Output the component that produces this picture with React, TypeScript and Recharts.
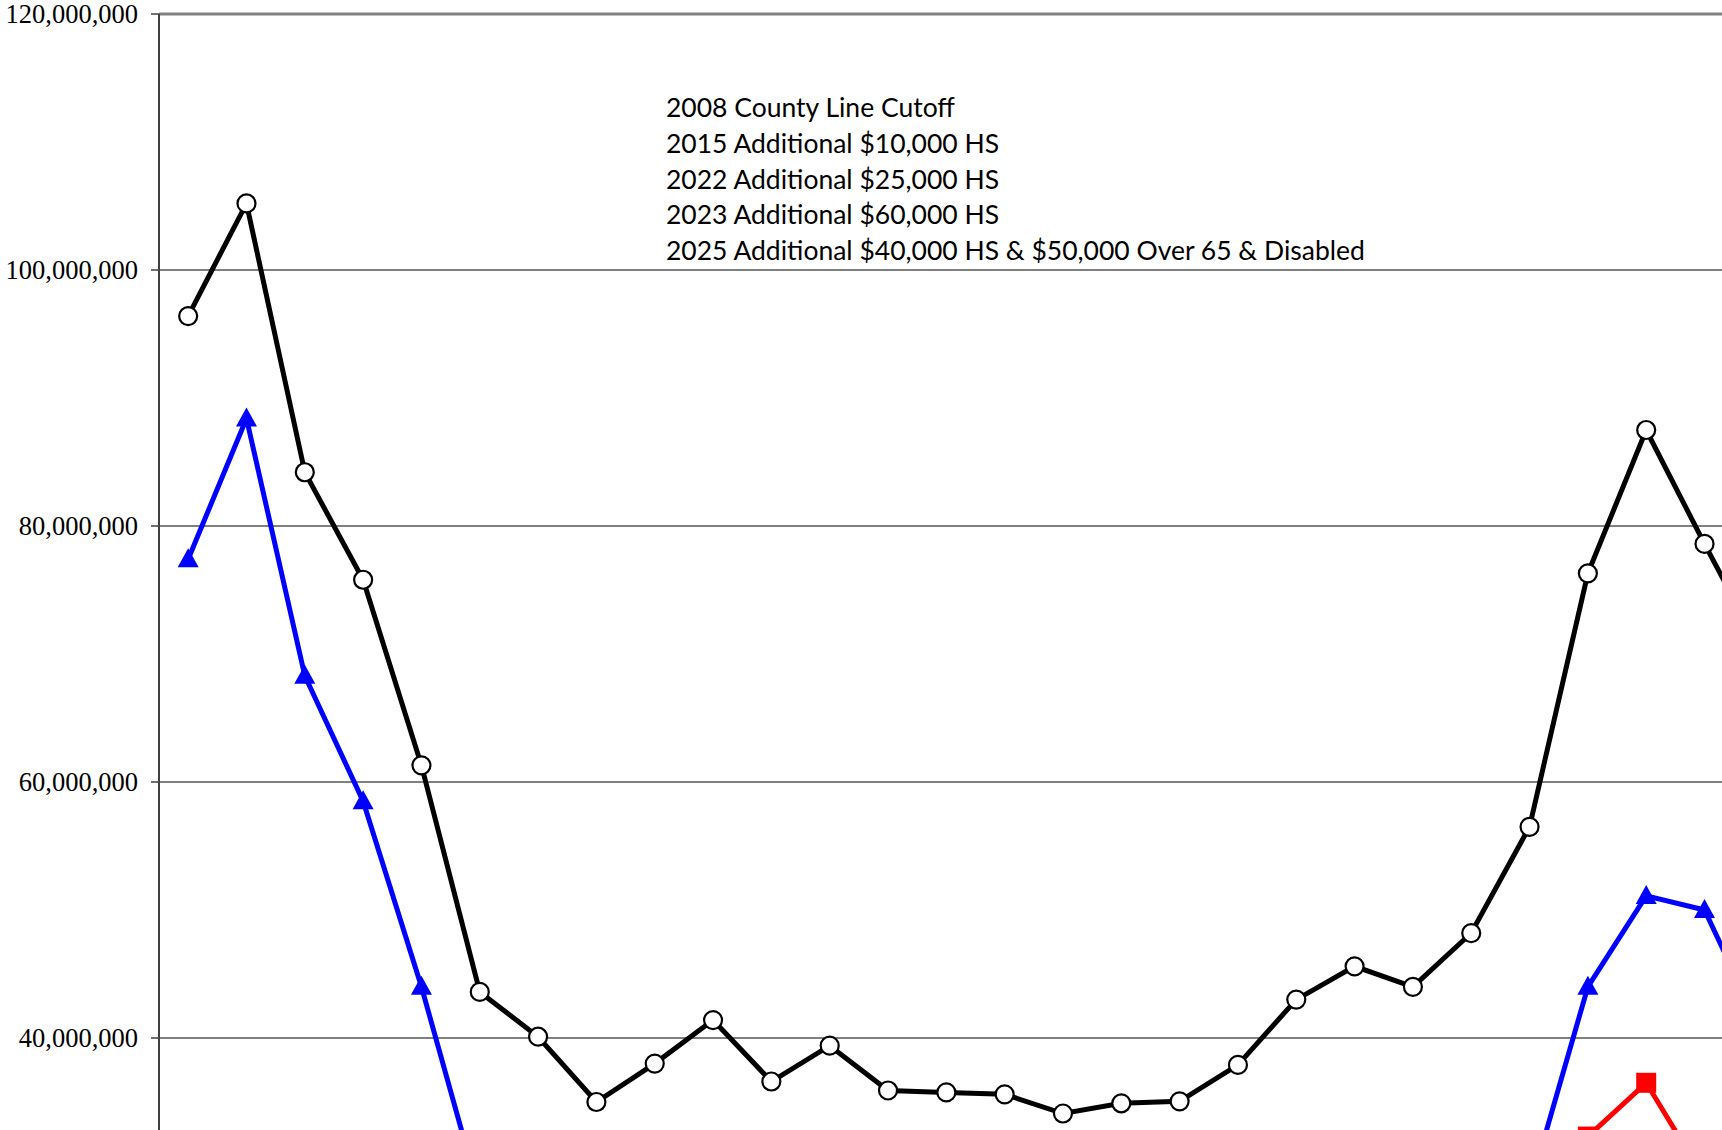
import { LineChart, Line, XAxis, YAxis, CartesianGrid, ReferenceLine } from 'recharts'

const YEARS = [
  '1997', '1998', '1999', '2000', '2001', '2002', '2003', '2004', '2005', '2006',
  '2007', '2008', '2009', '2010', '2011', '2012', '2013', '2014', '2015', '2016',
  '2017', '2018', '2019', '2020', '2021', '2022', '2023', '2024',
]

// values in dollars (millions)
const TOTAL = [
  96.4, 105.2, 84.2, 75.8, 61.3, 43.6, 40.1, 35.0, 38.0, 41.4,
  36.6, 39.4, 35.9, 35.75, 35.6, 34.1, 34.9, 35.05, 37.9, 43.0,
  45.6, 44.0, 48.2, 56.5, 76.3, 87.5, 78.6, 70.0,
]
const AFTER_HS = [
  77.4, 88.4, 68.3, 58.5, 44.0, 27.7, 24, 19, 21, 23,
  19, 21, 18, 18, 18, 17, 17.5, 17.5, 19, 22,
  24, 23, 25, 28.2, 44.0, 51.1, 50.0, 40.3,
]
const AFTER_2025 = [
  null, null, null, null, null, null, null, null, null, null,
  null, null, null, null, null, null, null, null, null, null,
  null, null, null, 26, 32.3, 36.5, 29.0, 25,
]

// only the ticks that fall inside the visible part of the chart
const Y_TICKS = [40000000, 60000000, 80000000, 100000000, 120000000]

const NOTES = [
  '2008 County Line Cutoff',
  '2015 Additional $10,000 HS',
  '2022 Additional $25,000 HS',
  '2023 Additional $60,000 HS',
  '2025 Additional $40,000 HS & $50,000 Over 65 & Disabled',
]

const M = 1000000
const data = YEARS.map((year, i) => ({
  year,
  total: TOTAL[i] * M,
  afterHs: AFTER_HS[i] * M,
  after2025: AFTER_2025[i] == null ? null : (AFTER_2025[i] as number) * M,
}))

function Triangle(props: any) {
  const { cx, cy, index } = props
  if (cx == null || cy == null) return <g key={`t-${index}`} />
  return (
    <polygon
      key={`t-${index}`}
      points={`${cx},${cy - 11} ${cx - 10.5},${cy + 8} ${cx + 10.5},${cy + 8}`}
      fill="#0000ff"
    />
  )
}

function Square(props: any) {
  const { cx, cy, index } = props
  if (cx == null || cy == null) return <g key={`s-${index}`} />
  return <rect key={`s-${index}`} x={cx - 10} y={cy - 10} width={20} height={20} fill="#ff0000" />
}

export default function App() {
  return (
    <div
      style={{
        position: 'fixed',
        left: 0,
        top: 0,
        width: 1722,
        height: 1130,
        overflow: 'hidden',
        background: '#fff',
      }}
    >
      <LineChart
        width={1792}
        height={1560}
        data={data}
        margin={{ top: 14, right: 0, bottom: 10, left: 0 }}
      >
        <CartesianGrid vertical={false} stroke="#000" strokeWidth={1} />
        <XAxis dataKey="year" hide scale="band" />
        <YAxis
          width={159}
          domain={[0, 120000000]}
          ticks={Y_TICKS}
          interval={0}
          tickSize={8}
          tickMargin={13}
          axisLine={{ stroke: '#404040', strokeWidth: 2 }}
          tickLine={{ stroke: '#404040', strokeWidth: 1.5 }}
          tick={{ fontFamily: '"Liberation Serif", serif', fontSize: 26.5, fill: '#000' }}
          tickFormatter={(v: number) => v.toLocaleString('en-US')}
        />
        <ReferenceLine y={120000000} stroke="#808080" strokeWidth={3} />
        <Line
          dataKey="after2025"
          stroke="#ff0000"
          strokeWidth={5}
          dot={Square}
          isAnimationActive={false}
        />
        <Line
          dataKey="afterHs"
          stroke="#0000ff"
          strokeWidth={5}
          dot={Triangle}
          isAnimationActive={false}
        />
        <Line
          dataKey="total"
          stroke="#000"
          strokeWidth={5}
          dot={{ r: 9, fill: '#fff', stroke: '#000', strokeWidth: 2.2 }}
          isAnimationActive={false}
        />
      </LineChart>
      <div
        style={{
          position: 'absolute',
          left: 666,
          top: 90,
          fontFamily: 'Lato, sans-serif',
          fontSize: 26.5,
          lineHeight: '35.8px',
          color: '#000',
          whiteSpace: 'nowrap',
        }}
      >
        {NOTES.map((n) => (
          <div key={n}>{n}</div>
        ))}
      </div>
    </div>
  )
}
